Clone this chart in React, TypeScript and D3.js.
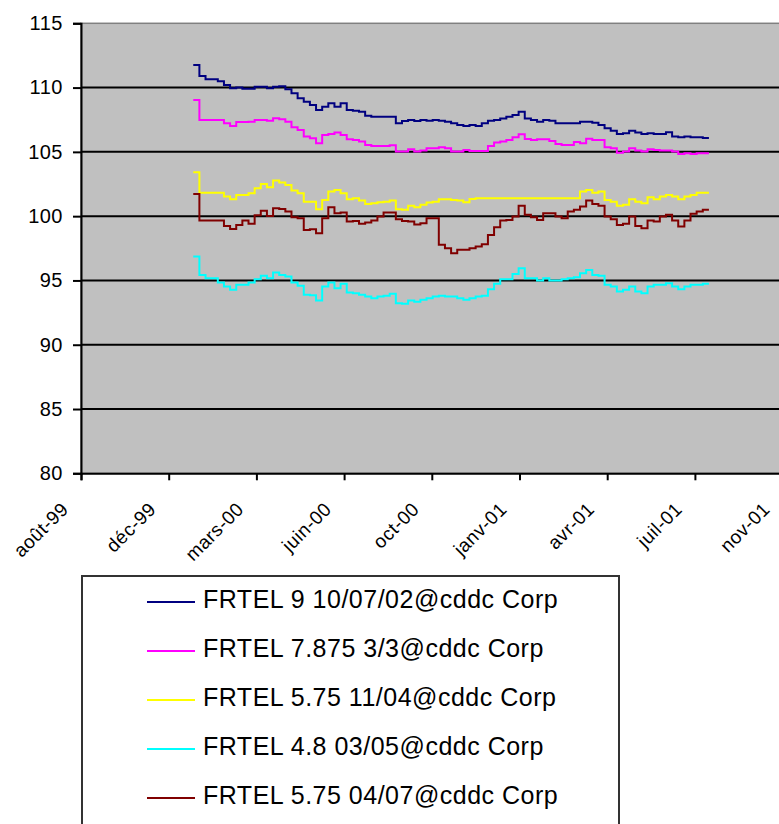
import React, { useEffect, useRef } from 'react';
import * as d3 from 'd3';

// weekly readings, first week 2000-01-05
const firstWeek = '2000-01-05';
const weekCount = 85;

const seriesNames = [
  'FRTEL 9 10/07/02@cddc Corp',
  'FRTEL 7.875 3/3@cddc Corp',
  'FRTEL 5.75 11/04@cddc Corp',
  'FRTEL 4.8 03/05@cddc Corp',
  'FRTEL 5.75 04/07@cddc Corp',
];
const seriesColors = ['#000080', '#FF00FF', '#FFFF00', '#00FFFF', '#800000'];

const frtel9 = [
  111.76, 110.9, 110.64, 110.64, 110.5, 110.2, 109.95, 110.0, 109.9, 109.9,
  110.07, 110.07, 109.95, 110.07, 110.1, 109.87, 109.55, 109.17, 108.9, 108.65,
  108.26, 108.5, 108.78, 108.5, 108.78, 108.26, 108.2, 108.13, 107.8, 107.74,
  107.74, 107.74, 107.74, 107.22, 107.4, 107.48, 107.4, 107.48, 107.43, 107.48,
  107.43, 107.35, 107.22, 107.09, 107.02, 107.09, 107.02, 107.22, 107.43, 107.48,
  107.6, 107.74, 107.87, 108.13, 107.6, 107.48, 107.35, 107.48, 107.43, 107.22,
  107.22, 107.22, 107.22, 107.35, 107.35, 107.27, 107.09, 106.83, 106.65, 106.39,
  106.45, 106.65, 106.5, 106.39, 106.45, 106.39, 106.39, 106.52, 106.19, 106.14,
  106.19, 106.14, 106.14, 106.08, 106.08,
];
const frtel7875 = [
  109.04, 107.48, 107.48, 107.48, 107.48, 107.22, 107.02, 107.33, 107.33, 107.35,
  107.48, 107.48, 107.43, 107.61, 107.53, 107.35, 106.91, 106.7, 106.19, 106.06,
  105.67, 106.32, 106.39, 106.5, 106.32, 105.98, 105.93, 105.8, 105.54, 105.46,
  105.46, 105.46, 105.51, 105.02, 105.02, 105.2, 105.02, 105.1, 105.28, 105.28,
  105.36, 105.28, 105.02, 105.02, 105.15, 105.07, 105.07, 105.07, 105.46, 105.72,
  105.8, 105.93, 106.13, 106.37, 106.01, 105.93, 105.98, 105.98, 105.85, 105.62,
  105.54, 105.54, 105.77, 105.67, 106.03, 105.93, 105.93, 105.36, 105.28, 104.94,
  105.02, 105.28, 105.1, 105.02, 105.2, 105.15, 105.1, 105.1, 105.02, 104.84,
  104.89, 104.84, 104.89, 104.89, 104.89,
];
const frtel575a = [
  103.41, 101.83, 101.83, 101.83, 101.83, 101.52, 101.32, 101.65, 101.65, 101.78,
  102.17, 102.51, 102.25, 102.77, 102.61, 102.43, 101.99, 101.78, 101.13, 101.13,
  100.54, 101.26, 101.91, 102.04, 101.78, 101.32, 101.39, 101.21, 100.95, 101.0,
  101.08, 101.13, 101.21, 100.54, 100.49, 100.8, 100.7, 100.88, 101.06, 101.13,
  101.32, 101.32, 101.26, 101.21, 101.08, 101.34, 101.39, 101.39, 101.39, 101.39,
  101.39, 101.39, 101.39, 101.39, 101.39, 101.39, 101.39, 101.39, 101.39, 101.39,
  101.39, 101.39, 101.39, 101.91, 102.04, 101.83, 101.91, 101.26, 101.13, 100.8,
  100.88, 101.32, 101.13, 101.0, 101.47, 101.32, 101.52, 101.65, 101.52, 101.32,
  101.52, 101.65, 101.83, 101.83, 101.83,
];
const frtel48 = [
  96.86, 95.43, 95.18, 95.18, 94.84, 94.53, 94.27, 94.66, 94.66, 94.84,
  95.1, 95.36, 95.18, 95.62, 95.43, 95.3, 94.84, 94.58, 93.88, 93.85,
  93.44, 94.53, 94.84, 94.4, 94.74, 94.06, 94.01, 93.88, 93.75, 93.62,
  93.75, 93.8, 93.96, 93.23, 93.18, 93.44, 93.34, 93.49, 93.62, 93.75,
  93.8, 93.75, 93.75, 93.62, 93.49, 93.62, 93.75, 93.8, 94.32, 94.74,
  95.1, 95.1, 95.51, 95.95, 95.18, 95.18, 95.0, 95.18, 95.0, 95.0,
  95.1, 95.18, 95.25, 95.56, 95.82, 95.43, 95.36, 94.66, 94.53, 94.14,
  94.27, 94.53, 94.14, 94.01, 94.53, 94.66, 94.66, 94.79, 94.53, 94.32,
  94.53, 94.66, 94.66, 94.74, 94.74,
];
const frtel575b = [
  101.73, 99.66, 99.66, 99.66, 99.66, 99.24, 99.01, 99.32, 99.66, 99.4,
  100.07, 100.43, 100.02, 100.62, 100.56, 100.36, 99.92, 99.84, 98.93, 98.98,
  98.67, 99.84, 100.69, 100.23, 100.28, 99.58, 99.63, 99.4, 99.5, 99.66,
  99.97, 100.28, 100.28, 99.76, 99.63, 99.58, 99.35, 99.45, 99.84, 99.84,
  97.77, 97.51, 97.12, 97.38, 97.38, 97.51, 97.64, 97.82, 98.54, 99.14,
  99.66, 99.71, 99.97, 100.8, 100.1, 99.92, 99.71, 100.23, 100.23, 99.97,
  99.84, 100.36, 100.49, 100.75, 101.21, 100.95, 100.8, 99.97, 99.76, 99.32,
  99.4, 99.97, 99.24, 99.06, 99.66, 99.58, 99.97, 100.1, 99.66, 99.19,
  99.66, 100.18, 100.36, 100.49, 100.49,
];

const yTicks = [80, 85, 90, 95, 100, 105, 110, 115];
const axisStart = '1999-08-30';
const axisEnd = '2001-11-07';
const tickStepDays = 100;

const fr = d3.timeFormatLocale({
  dateTime: '%A %e %B %Y à %X',
  date: '%d/%m/%Y',
  time: '%H:%M:%S',
  periods: ['AM', 'PM'],
  days: ['dimanche', 'lundi', 'mardi', 'mercredi', 'jeudi', 'vendredi', 'samedi'],
  shortDays: ['dim', 'lun', 'mar', 'mer', 'jeu', 'ven', 'sam'],
  months: ['janvier', 'février', 'mars', 'avril', 'mai', 'juin', 'juillet', 'août', 'septembre', 'octobre', 'novembre', 'décembre'],
  shortMonths: ['janv', 'févr', 'mars', 'avr', 'mai', 'juin', 'juil', 'août', 'sept', 'oct', 'nov', 'déc'],
});

const FONT = '"Liberation Sans", Arial, sans-serif';

export default function App() {
  const ref = useRef<SVGSVGElement>(null);

  useEffect(() => {
    const parse = d3.timeParse('%Y-%m-%d');
    const start = parse(firstWeek)!;
    const dates = d3.range(weekCount).map((i) => d3.timeDay.offset(start, i * 7));
    const allSeries = [frtel9, frtel7875, frtel575a, frtel48, frtel575b];

    const margin = { left: 81, top: 23.3 };
    const plotW = 701.6;
    const plotH = 450;

    const svg = d3.select(ref.current);
    svg.selectAll('*').remove();

    const x = d3.scaleTime()
      .domain([parse(axisStart)!, parse(axisEnd)!])
      .range([margin.left, margin.left + plotW]);
    const y = d3.scaleLinear()
      .domain([80, 115])
      .range([margin.top + plotH, margin.top]);

    // plot area
    svg.append('rect')
      .attr('x', margin.left).attr('y', margin.top)
      .attr('width', plotW).attr('height', plotH)
      .attr('fill', '#C0C0C0')
      .attr('stroke', '#808080').attr('stroke-width', 1.5);

    // gridlines
    svg.append('g')
      .selectAll('line')
      .data(yTicks.filter((t) => t > 80 && t < 115))
      .join('line')
      .attr('x1', margin.left).attr('x2', margin.left + plotW)
      .attr('y1', (d) => y(d)).attr('y2', (d) => y(d))
      .attr('stroke', '#000').attr('stroke-width', 2);

    // series
    const line = d3.line<number>()
      .x((_, i) => x(dates[i]))
      .y((d) => y(d))
      .curve(d3.curveStepAfter);

    allSeries.forEach((vals, i) => {
      svg.append('path')
        .datum(vals)
        .attr('fill', 'none')
        .attr('stroke', seriesColors[i])
        .attr('stroke-width', 2)
        .attr('d', line);
    });

    // y axis
    const yAxis = svg.append('g')
      .attr('transform', `translate(${margin.left},0)`)
      .call(d3.axisLeft(y).tickValues(yTicks).tickSize(8).tickPadding(10));
    yAxis.select('.domain').attr('stroke', '#000').attr('stroke-width', 2);
    yAxis.selectAll('.tick line').attr('stroke', '#000').attr('stroke-width', 2);
    yAxis.selectAll('.tick text')
      .attr('font-family', FONT).attr('font-size', 20)
      .attr('letter-spacing', 0.5).attr('fill', '#000');

    // x axis
    const xTicks = d3.range(9).map((i) => d3.timeDay.offset(parse(axisStart)!, i * tickStepDays));
    const fmt = fr.format('%b-%y');
    const xAxis = svg.append('g')
      .attr('transform', `translate(0,${margin.top + plotH})`)
      .call(d3.axisBottom(x).tickValues(xTicks).tickSize(7).tickFormat((d) => fmt(d as Date)));
    xAxis.select('.domain').attr('stroke', '#000').attr('stroke-width', 2);
    xAxis.selectAll('.tick line').attr('stroke', '#000').attr('stroke-width', 2);
    xAxis.selectAll('.tick text')
      .attr('font-family', FONT).attr('font-size', 19)
      .attr('letter-spacing', 0.5).attr('fill', '#000')
      .attr('text-anchor', 'end')
      .attr('dy', null)
      .attr('y', 0)
      .attr('transform', 'translate(-12,37) rotate(-45)');

    // legend
    const lg = svg.append('g');
    lg.append('rect')
      .attr('x', 82).attr('y', 576)
      .attr('width', 537).attr('height', 300)
      .attr('fill', '#fff')
      .attr('stroke', '#333').attr('stroke-width', 2);
    seriesNames.forEach((name, i) => {
      const ly = 602 + i * 49;
      lg.append('line')
        .attr('x1', 147).attr('x2', 195)
        .attr('y1', ly).attr('y2', ly)
        .attr('stroke', seriesColors[i]).attr('stroke-width', 2);
      lg.append('text')
        .attr('x', 203).attr('y', ly + 6)
        .attr('font-family', FONT).attr('font-size', 25)
        .attr('letter-spacing', 0.5)
        .attr('fill', '#000')
        .text(name);
    });
  }, []);

  return (
    <svg
      ref={ref}
      width={779}
      height={824}
      style={{ position: 'absolute', left: 0, top: 0, background: '#fff' }}
    />
  );
}
